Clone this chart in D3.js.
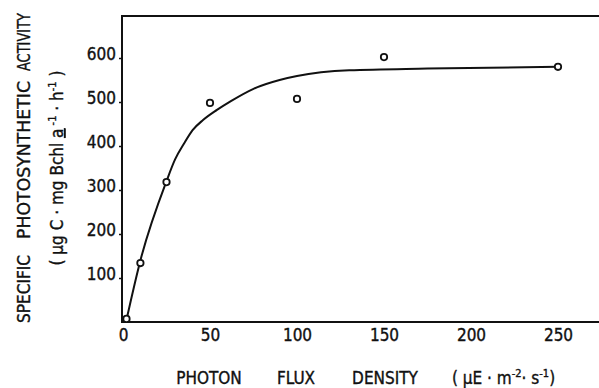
<!DOCTYPE html>
<html><head><meta charset="utf-8">
<script src="https://cdn.jsdelivr.net/npm/d3@7"></script>
<style>
body{margin:0;background:#fff;}
text{font-family:"DejaVu Sans Condensed","DejaVu Sans",sans-serif;fill:#111;stroke:#111;stroke-width:0.35px;white-space:pre;}
</style></head><body>
<svg id="c" width="599" height="388"></svg>
<script>
// measured points
const pointX = [2, 10, 25, 50, 100, 150, 250];
const pointY = [7, 134, 318, 498, 507, 602, 580];
// fitted curve
const curveX = [2, 10, 25, 30, 35, 40, 46, 54, 62, 75, 90, 100, 130, 175, 250];
const curveY = [5, 140, 320, 370, 405, 436, 459, 482, 502, 530, 550, 559, 572, 576, 580];
const xTicks = [0, 50, 100, 150, 200, 250];
const yTicks = [100, 200, 300, 400, 500, 600];

(function(){
const svg = d3.select("#c");
const x = d3.scaleLinear().domain([0, 250]).range([123, 558]);
const y = d3.scaleLinear().domain([0, 600]).range([322, 58]);
const L = 122, T = 16, B = 322, R = 599;

// frame
svg.append("path").attr("d", `M${R},${T}H${L}V${B}H${R}`)
  .attr("fill","none").attr("stroke","#111").attr("stroke-width",2);

// y axis
const ya = svg.append("g").attr("transform",`translate(${L},0)`)
  .call(d3.axisLeft(y).tickValues(yTicks).tickSize(3).tickPadding(3).tickFormat(d3.format("d")));
ya.select(".domain").remove();
ya.selectAll("text").attr("font-size",17).attr("font-family","DejaVu Sans Condensed").attr("dy","0.1em");
ya.selectAll("line").attr("stroke","#111").attr("stroke-width",1.5);

// x axis
const xa = svg.append("g").attr("transform",`translate(0,${B})`)
  .call(d3.axisBottom(x).tickValues(xTicks).tickSize(0).tickPadding(7).tickFormat(d3.format("d")));
xa.select(".domain").remove();
xa.selectAll("text").attr("font-size",17).attr("font-family","DejaVu Sans Condensed");

// curve
const line = d3.line().x(d=>x(d[0])).y(d=>y(d[1])).curve(d3.curveMonotoneX);
svg.append("path").datum(d3.zip(curveX, curveY)).attr("d", line)
  .attr("fill","none").attr("stroke","#111").attr("stroke-width",2);

// points
svg.selectAll("circle.p").data(d3.zip(pointX, pointY)).join("circle")
  .attr("cx", d=>x(d[0])).attr("cy", d=>y(d[1])).attr("r",3.2)
  .attr("fill","#fff").attr("stroke","#111").attr("stroke-width",1.8);

// y title, line 1 (word by word)
const yWords = [["SPECIFIC",289,68],["PHOTOSYNTHETIC",160,158],["ACTIVITY",42,58]];
yWords.forEach(([t,cy,len])=>svg.append("text").attr("transform",`translate(30,${cy}) rotate(-90)`)
  .attr("text-anchor","middle").attr("font-size",17).attr("textLength",len).attr("lengthAdjust","spacingAndGlyphs").text(t));
// y title, line 2
const yt2 = svg.append("text").attr("transform","translate(63,168) rotate(-90)")
  .attr("text-anchor","middle").attr("font-size",17);
yt2.append("tspan").text("( µg C · mg Bchl ");
yt2.append("tspan").attr("text-decoration","underline").text("a");
yt2.append("tspan").attr("font-size",11).attr("dy",-7).text(" -1");
yt2.append("tspan").attr("dy",7).text(" · h");
yt2.append("tspan").attr("font-size",11).attr("dy",-7).text("-1");
yt2.append("tspan").attr("dy",7).text(" )");

// x title
const xWords = [["PHOTON",209],["FLUX",296],["DENSITY",385]];
xWords.forEach(([t,cx])=>svg.append("text").attr("x",cx).attr("y",384).attr("text-anchor","middle").attr("font-size",17).text(t));
const xt = svg.append("text").attr("x",452).attr("y",384).attr("font-size",17);
xt.append("tspan").text("( µE · m");
xt.append("tspan").attr("font-size",11).attr("dy",-7).text("-2");
xt.append("tspan").attr("dy",7).text("· s");
xt.append("tspan").attr("font-size",11).attr("dy",-7).text("-1");
xt.append("tspan").attr("dy",7).text(")");
})();
</script></body></html>
